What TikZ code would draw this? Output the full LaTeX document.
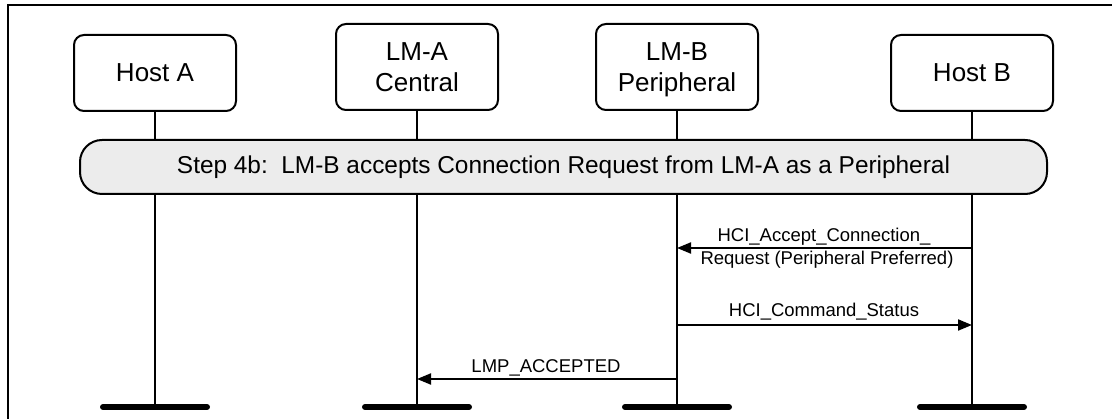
\documentclass[tikz,border=0pt]{standalone}
\usepackage{fontspec}
\setmainfont{Liberation Sans}
\usetikzlibrary{arrows.meta,calc}
\definecolor{barfill}{RGB}{236,236,236}
\begin{document}
\begin{tikzpicture}[x=1pt,y=-1pt,
 hdr/.style={draw, line width=2pt, rounded corners=10pt, minimum width=162pt, align=center, font=\fontsize{26}{31}\selectfont, inner sep=0pt},
 life/.style={line width=2.2pt},
 basebar/.style={line width=6pt, line cap=round},
 msg/.style={line width=2pt, -{Triangle[length=14pt,width=11pt]}},
 lbl/.style={font=\fontsize{18.5}{22}\selectfont, inner sep=0pt, anchor=base},
 stepbox/.style={draw, line width=2pt, fill=barfill, rounded corners=22pt, minimum width=967pt, minimum height=54pt, inner sep=0pt, font=\fontsize{24.4}{28}\selectfont}
]
\useasboundingbox (0,0) rectangle (1112,419);
% frame
\coordinate (fbl) at (8,419);
\coordinate (ftl) at (8,5);
\coordinate (ftr) at (1112,5);
\draw[line width=2.5pt] (fbl) -- (ftl) -- (ftr);

% headers
\node[hdr, minimum height=76pt] (ha) at (155,73) {Host A};
\node[hdr, minimum height=86pt] (la) at (417,67) {LM-A\\Central};
\node[hdr, minimum height=86pt] (lb) at (677,67) {LM-B\\\raisebox{0pt}[\height][0pt]{Peripheral}};
\node[hdr, minimum height=76pt] (hb) at (972,73) {Host B};

% lifeline ends
\coordinate (hae) at (155,407);
\coordinate (lae) at (417,407);
\coordinate (lbe) at (677,407);
\coordinate (hbe) at (972,407);

\draw[life] (ha.south) -- (hae);
\draw[life] (la.south) -- (lae);
\draw[life] (lb.south) -- (lbe);
\draw[life] (hb.south) -- (hbe);

\foreach \c in {hae,lae,lbe,hbe}{
  \draw[basebar] ($(\c)+(-52,0)$) -- ($(\c)+(52,0)$);
}

% step bar
\node[stepbox] (step) at (563.5,167) {Step 4b:\ \ LM-B accepts Connection Request from LM-A as a Peripheral};

% messages
\coordinate (m1s) at (972,248);
\coordinate (m1e) at (677,248);
\draw[msg] (m1s) -- (m1e);
\node[lbl] (l1a) at (824,242) {HCI\_Accept\_Connection\_};
\node[lbl] (l1b) at (827,265) {Request (Peripheral Preferred)};

\coordinate (m2s) at (677,325);
\coordinate (m2e) at (972,325);
\draw[msg] (m2s) -- (m2e);
\node[lbl] (l2) at (824,317) {HCI\_Command\_Status};

\coordinate (m3s) at (677,379);
\coordinate (m3e) at (417,379);
\draw[msg] (m3s) -- (m3e);
\node[lbl] (l3) at (546,373) {LMP\_ACCEPTED};
\end{tikzpicture}
\end{document}
